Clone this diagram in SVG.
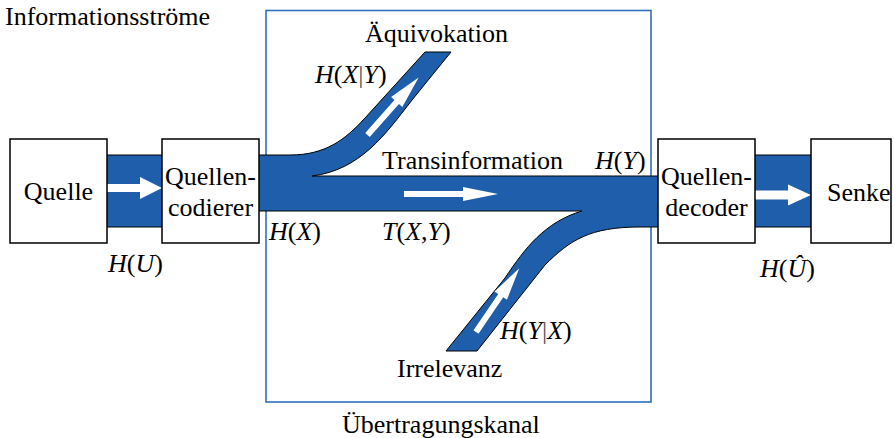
<svg xmlns="http://www.w3.org/2000/svg" width="894" height="438" viewBox="0 0 894 438">
<style>
text{font-family:"Liberation Serif","Times New Roman",serif;font-size:26px;fill:#000}
.i{font-style:italic}
.bar{fill:#555}
.box{fill:#fff;stroke:#000;stroke-width:1.5}
.band{fill:#1f5eab;stroke:#000;stroke-width:1}
.arr{fill:#fff}
</style>
<rect width="894" height="438" fill="#fff"/>
<g id="kanal">
<rect x="266" y="10.5" width="385" height="391.5" fill="none" stroke="#2f6fc0" stroke-width="1.6"/>
<text x="342" y="433">Übertragungskanal</text>
</g>
<g id="connectors">
<rect class="band" x="100" y="155" width="70" height="72"/>
<rect class="band" x="748" y="155" width="70" height="72"/>
<path class="band" d="M 255,155 L 290,155 C 325,155 345,140 365,118 L 425,52 L 451,52 L 412,100 C 385,135 360,170 312,176 L 662,176 L 662,227 L 640,227 C 590,227 570,240 545,265 L 477,351 L 446,351 L 505,278 C 525,248 545,222 582,211 L 255,211 Z"/>
<polygon class="arr" points="107,184 140,184 140,177 162,188 140,199 140,192 107,192"/>
<polygon class="arr" points="755,190.5 788,190.5 788,184.5 811,195 788,205.5 788,199.5 755,199.5"/>
<polygon class="arr" points="404,191 463,191 463,187 498,194 463,201 463,197 404,197"/>
<polygon class="arr" transform="translate(367.5,135) rotate(-48.4)" points="0,-3 44,-3 44,-7.5 77,0 44,7.5 44,3 0,3"/>
<polygon class="arr" transform="translate(476,332) rotate(-55.8)" points="0,-3 44,-3 44,-7.5 77,0 44,7.5 44,3 0,3"/>
</g>
<g id="quelle">
<rect class="box" x="10" y="139" width="97" height="104"/>
<text x="58.5" y="200" text-anchor="middle">Quelle</text>
</g>
<g id="quellencodierer">
<rect class="box" x="162" y="139" width="97" height="104"/>
<text x="210.5" y="185" text-anchor="middle">Quellen-</text>
<text x="210.5" y="216" text-anchor="middle">codierer</text>
</g>
<g id="quellendecoder">
<rect class="box" x="658" y="139" width="97" height="104"/>
<text x="706.5" y="185" text-anchor="middle">Quellen-</text>
<text x="706.5" y="216" text-anchor="middle">decoder</text>
</g>
<g id="senke">
<rect class="box" x="811" y="139" width="80" height="104"/>
<text x="827" y="201">Senke</text>
</g>
<g id="labels">
<text x="5" y="25">Informationsströme</text>
<text x="108" y="272"><tspan class="i">H</tspan>(<tspan class="i">U</tspan>)</text>
<text x="269" y="240"><tspan class="i">H</tspan>(<tspan class="i">X</tspan>)</text>
<text x="382" y="240"><tspan class="i">T</tspan>(<tspan class="i">X</tspan>,<tspan class="i">Y</tspan>)</text>
<text x="382" y="169">Transinformation</text>
<text x="595" y="169"><tspan class="i">H</tspan>(<tspan class="i">Y</tspan>)</text>
<text x="365" y="42">Äquivokation</text>
<text x="315" y="83"><tspan class="i">H</tspan>(<tspan class="i">X</tspan><tspan class="bar">|</tspan><tspan class="i">Y</tspan>)</text>
<text x="397" y="377">Irrelevanz</text>
<text x="500" y="339"><tspan class="i">H</tspan>(<tspan class="i">Y</tspan><tspan class="bar">|</tspan><tspan class="i">X</tspan>)</text>
<text x="760" y="277"><tspan class="i">H</tspan>(<tspan class="i">Û</tspan>)</text>
</g>
</svg>
